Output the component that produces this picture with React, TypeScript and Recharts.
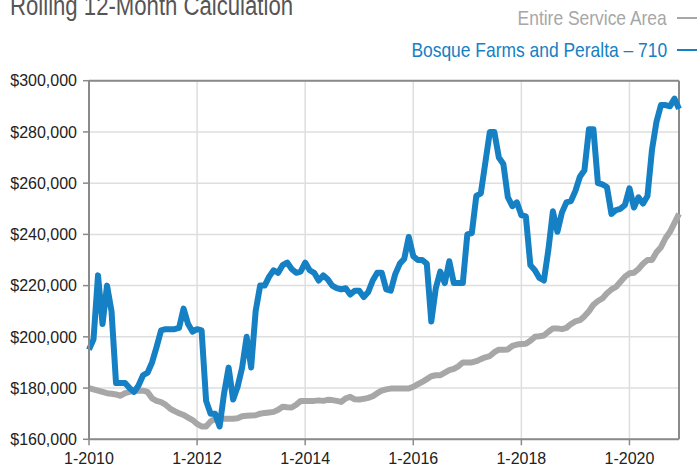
import { LineChart, Line, XAxis, YAxis, CartesianGrid, ReferenceLine } from "recharts"

// monthly rolling 12-month values, in $ thousands, 1-2010 .. 12-2020
const bosque = [
  195, 199, 224, 205, 220, 210, 182, 182, 182, 180, 178.5, 181,
  185, 186, 190, 196, 202.5, 203, 203, 203, 203.5, 211, 205, 202,
  203, 202.5, 175, 170, 170, 165, 178, 188, 175.5, 180.5, 188, 200,
  188, 210, 220, 220, 223.5, 226, 225, 228, 229, 226.5, 225, 225.5,
  229, 226, 225, 222, 224, 222.5, 220, 219, 218.5, 219, 216.5, 218,
  218, 215.5, 217.5, 222, 225, 225, 218.5, 218, 224.5, 228.5, 230.5, 239,
  231.5, 230, 230, 228.5, 206, 219, 225.5, 221, 229.5, 221, 221, 221,
  240, 240.5, 255, 256, 268, 280, 280, 270, 267.5, 254.5, 251, 252.5,
  247.5, 247, 228, 226, 223, 222, 234, 249, 241, 248.5, 252.5, 253,
  257, 262.5, 265, 281, 281, 260, 259.5, 258.5, 248, 249.5, 250, 251.5,
  258, 250.5, 254.5, 252, 255, 273, 284, 290.5, 290.5, 290, 293, 289,
]

const serviceArea = [
  180, 179.5, 179, 178.5, 178, 177.8, 177.5, 177, 178, 178.5, 179, 179,
  179, 178.5, 176, 175, 174.5, 173.5, 172, 171, 170.2, 169.5, 168.5, 167.5,
  166, 165, 165, 167, 168, 168, 168, 168, 168, 168.2, 169, 169.2,
  169.3, 169.4, 170, 170.3, 170.5, 170.7, 171.5, 172.7, 172.5, 172.4, 173.5, 175,
  175, 175, 175, 175.2, 175, 175.4, 175.3, 175, 174.6, 176, 176.6, 175.6,
  175.5, 175.8, 176.2, 176.8, 178, 179, 179.5, 179.8, 179.8, 179.8, 179.8, 179.8,
  180.5, 181.5, 182.4, 183.5, 184.6, 185, 185, 186, 187, 187.5, 188.5, 190,
  190, 190, 190.5, 191.3, 192, 192.5, 194, 195, 195, 195.1, 196.5, 197,
  197.2, 197.3, 198.5, 200, 200.2, 200.5, 202, 203.3, 203.3, 203, 203.5, 205,
  206, 206.5, 208, 210, 212.5, 214, 215, 217, 218.5, 219.5, 221.5, 223.5,
  224.8, 225, 226.5, 228.5, 230, 230, 233, 235, 238.5, 241, 244.5, 248,
]

const xTicks = [0, 24, 48, 72, 96, 120]
const xTickLabels = ["1-2010", "1-2012", "1-2014", "1-2016", "1-2018", "1-2020"]
const yTicks = [160, 180, 200, 220, 240, 260, 280, 300]

const BLUE = "#1580c3"
const GRAY = "#a7a7a7"
const AXIS = "#8a8a8a"

const data = bosque.map((v, i) => ({ i, bosque: v, area: serviceArea[i] }))

// the source uses a condensed face; squeeze a regular one to match
const legendText = {
  position: "absolute" as const,
  right: 32,
  fontFamily: "'Liberation Sans', Arial, sans-serif",
  fontSize: 21,
  lineHeight: "24px",
  whiteSpace: "nowrap" as const,
  transform: "scaleX(0.83)",
  transformOrigin: "right center",
}

export default function App() {
  return (
    <div style={{ position: "absolute", left: 0, top: 0, width: 699, height: 466, background: "#fff", overflow: "hidden" }}>
      <div
        style={{
          position: "absolute",
          left: 10,
          top: -9,
          fontFamily: "'Liberation Sans', Arial, sans-serif",
          fontSize: 27,
          lineHeight: "30px",
          color: "#555",
          whiteSpace: "nowrap",
          transform: "scaleX(0.82)",
          transformOrigin: "left center",
        }}
      >
        Rolling 12-Month Calculation
      </div>

      <div style={{ ...legendText, top: 6, color: GRAY }}>Entire Service Area</div>
      <div style={{ position: "absolute", left: 677, top: 17, width: 20, height: 2, background: GRAY }} />
      <div style={{ ...legendText, top: 38, color: BLUE }}>Bosque Farms and Peralta – 710</div>
      <div style={{ position: "absolute", left: 677, top: 49, width: 20, height: 2, background: BLUE }} />

      <LineChart
        width={699}
        height={466}
        data={data}
        margin={{ top: 80.7, right: 20, bottom: 0, left: 0 }}
        style={{ position: "absolute", left: 0, top: 0 }}
      >
        <CartesianGrid stroke="#dedede" strokeWidth={1.5} />
        <XAxis
          dataKey="i"
          type="number"
          domain={[0, 131]}
          ticks={xTicks}
          tickFormatter={(v: number) => xTickLabels[xTicks.indexOf(v)] ?? ""}
          height={26.7}
          tickSize={6}
          tickMargin={7}
          axisLine={{ stroke: AXIS, strokeWidth: 2 }}
          tickLine={{ stroke: AXIS, strokeWidth: 1.5 }}
          tick={{ fill: "#222", fontSize: 16, fontFamily: "'Liberation Sans', Arial, sans-serif" }}
        />
        <YAxis
          type="number"
          domain={[160, 300]}
          ticks={yTicks}
          tickFormatter={(v: number) => `$${v},000`}
          width={89}
          tickSize={6}
          tickMargin={6}
          axisLine={{ stroke: AXIS, strokeWidth: 2 }}
          tickLine={{ stroke: AXIS, strokeWidth: 1.5 }}
          tick={{ fill: "#222", fontSize: 16, fontFamily: "'Liberation Sans', Arial, sans-serif" }}
        />
        <ReferenceLine y={300} stroke={AXIS} strokeWidth={2} />
        <ReferenceLine x={131} stroke={AXIS} strokeWidth={2} />
        <Line
          type="linear"
          dataKey="area"
          stroke={GRAY}
          strokeWidth={6}
          dot={false}
          strokeLinejoin="round"
          isAnimationActive={false}
        />
        <Line
          type="linear"
          dataKey="bosque"
          stroke={BLUE}
          strokeWidth={6}
          dot={false}
          strokeLinejoin="round"
          isAnimationActive={false}
        />
      </LineChart>
    </div>
  )
}
